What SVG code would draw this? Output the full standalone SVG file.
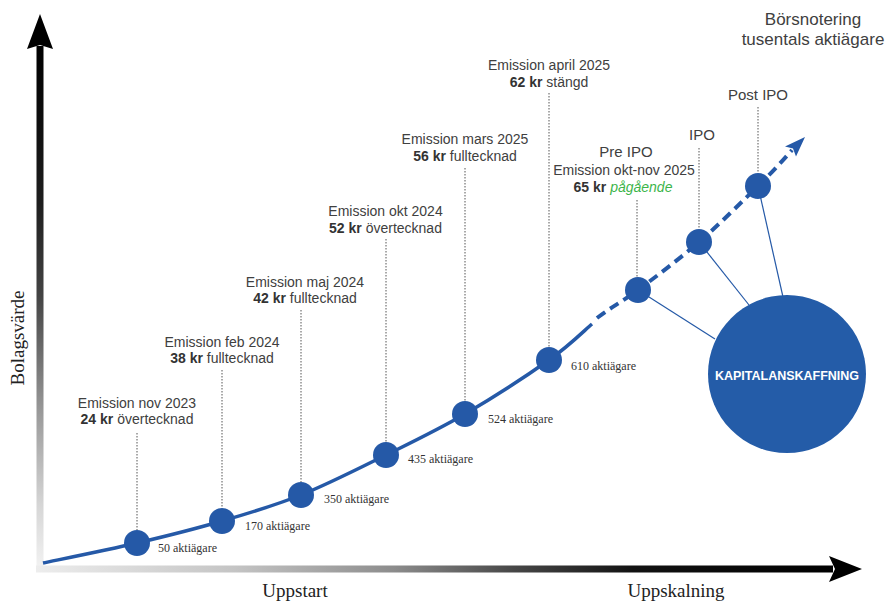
<svg xmlns="http://www.w3.org/2000/svg" width="886" height="602" viewBox="0 0 886 602">
<defs>
<linearGradient id="gx" gradientUnits="userSpaceOnUse" x1="36" y1="0" x2="832" y2="0">
<stop offset="0" stop-color="#ededed"/>
<stop offset="0.25" stop-color="#c4c4c4"/>
<stop offset="0.45" stop-color="#8c8c8c"/>
<stop offset="0.6" stop-color="#474747"/>
<stop offset="0.75" stop-color="#121212"/>
<stop offset="1" stop-color="#000"/>
</linearGradient>
<linearGradient id="gy" gradientUnits="userSpaceOnUse" x1="0" y1="46" x2="0" y2="568">
<stop offset="0" stop-color="#000"/>
<stop offset="0.3" stop-color="#1e1e1e"/>
<stop offset="0.48" stop-color="#444"/>
<stop offset="0.7" stop-color="#999"/>
<stop offset="0.88" stop-color="#d6d6d6"/>
<stop offset="1" stop-color="#f2f2f2"/>
</linearGradient>
</defs>
<style>
.lbl{font-family:"Liberation Sans",Arial,sans-serif;font-size:14px;fill:#404040;text-anchor:middle}
.b{font-weight:bold;fill:#333}
.big{font-size:15px}
.top{font-size:17px}
.sh{font-family:"Liberation Serif","Times New Roman",serif;font-size:12px;fill:#333}
.ax{font-family:"Liberation Serif","Times New Roman",serif;font-size:19px;fill:#222;text-anchor:middle}
.dot{fill:#2559a7}
.lead{stroke:#555;stroke-width:1;stroke-dasharray:1.5 1.5;fill:none}
.link{stroke:#2559a7;stroke-width:1.2;fill:none}
</style>
<rect width="886" height="602" fill="#fff"/>

<g id="axes">
<line x1="40" y1="568" x2="40" y2="46" stroke="url(#gy)" stroke-width="7"/>
<path d="M40,14 L53,49 L40,45 L27,49 Z" fill="#000"/>
<line x1="36" y1="569" x2="833" y2="569" stroke="url(#gx)" stroke-width="7"/>
<path d="M862,569 L829,556 L835,569 L829,582 Z" fill="#000"/>
<text class="ax" transform="translate(24,338) rotate(-90)" font-size="18">Bolagsvärde</text>
<text class="ax" x="295" y="597">Uppstart</text>
<text class="ax" x="676" y="597">Uppskalning</text>
</g>

<g id="connectors">
<path d="M43,563 C58.7,559.7 107.2,550 137,543 C166.8,536 194.7,529 222,521 C249.3,513 273.7,506 301,495 C328.3,484 358.7,468.5 386,455 C413.3,441.5 437.8,429.8 465,414 C492.2,398.2 527.8,375 549,360 C570.2,345 584.8,330 592,324" fill="none" stroke="#2559a7" stroke-width="3.5"/>
<path d="M597,318 C610.8,307.3 620.8,302.8 638,290 C655.2,277.2 679,259.3 699,242 C719,224.7 741.8,201.8 758,186 C774.2,170.2 784,159 792,150" fill="none" stroke="#2559a7" stroke-width="4" stroke-dasharray="10 6"/>
<path d="M805,137 L785,146.5 L793,148.5 L796,156.5 Z" fill="#2559a7"/>
<line class="lead" x1="137" y1="433" x2="137" y2="530"/>
<line class="lead" x1="222" y1="370" x2="222" y2="508"/>
<line class="lead" x1="301" y1="310" x2="301" y2="482"/>
<line class="lead" x1="386" y1="239" x2="386" y2="442"/>
<line class="lead" x1="465" y1="168" x2="465" y2="401"/>
<line class="lead" x1="549" y1="93" x2="549" y2="347"/>
<line class="lead" x1="637" y1="200" x2="637" y2="277"/>
<line class="lead" x1="699" y1="148" x2="699" y2="229"/>
<line class="lead" x1="758" y1="107" x2="758" y2="173"/>
<line class="link" x1="638" y1="290" x2="715" y2="339"/>
<line class="link" x1="699" y1="242" x2="749" y2="305"/>
<line class="link" x1="758" y1="186" x2="783" y2="297"/>
</g>

<g id="n1">
<circle class="dot" cx="137" cy="543" r="13"/>
<text class="lbl" x="137" y="408">Emission nov 2023</text>
<text class="lbl" x="137" y="424"><tspan class="b">24 kr</tspan> övertecknad</text>
<text class="sh" x="158" y="552">50 aktiägare</text>
</g>
<g id="n2">
<circle class="dot" cx="222" cy="521" r="13"/>
<text class="lbl" x="222" y="347">Emission feb 2024</text>
<text class="lbl" x="222" y="363"><tspan class="b">38 kr</tspan> fulltecknad</text>
<text class="sh" x="245" y="530">170 aktiägare</text>
</g>
<g id="n3">
<circle class="dot" cx="301" cy="495" r="13"/>
<text class="lbl" x="305" y="287">Emission maj 2024</text>
<text class="lbl" x="305" y="303"><tspan class="b">42 kr</tspan> fulltecknad</text>
<text class="sh" x="324" y="503">350 aktiägare</text>
</g>
<g id="n4">
<circle class="dot" cx="386" cy="455" r="13"/>
<text class="lbl" x="385.5" y="216">Emission okt 2024</text>
<text class="lbl" x="385.5" y="233"><tspan class="b">52 kr</tspan> övertecknad</text>
<text class="sh" x="408" y="463">435 aktiägare</text>
</g>
<g id="n5">
<circle class="dot" cx="465" cy="414" r="13"/>
<text class="lbl" x="465" y="144">Emission mars 2025</text>
<text class="lbl" x="465" y="161"><tspan class="b">56 kr</tspan> fulltecknad</text>
<text class="sh" x="488" y="423">524 aktiägare</text>
</g>
<g id="n6">
<circle class="dot" cx="549" cy="360" r="13"/>
<text class="lbl" x="549" y="70">Emission april 2025</text>
<text class="lbl" x="549" y="87"><tspan class="b">62 kr</tspan> stängd</text>
<text class="sh" x="571" y="370">610 aktiägare</text>
</g>
<g id="preipo">
<circle class="dot" cx="638" cy="290" r="13"/>
<text class="lbl big" x="626" y="157">Pre IPO</text>
<text class="lbl" x="624" y="175">Emission okt-nov 2025</text>
<text class="lbl" x="623" y="192" font-size="12"><tspan class="b">65 kr</tspan> <tspan fill="#3cb54a" font-style="italic">pågående</tspan></text>
</g>
<g id="ipo">
<circle class="dot" cx="699" cy="242" r="13"/>
<text class="lbl big" x="702" y="140">IPO</text>
</g>
<g id="postipo">
<circle class="dot" cx="758" cy="186" r="13"/>
<text class="lbl big" x="758" y="100">Post IPO</text>
</g>
<g id="borsnotering">
<text class="lbl top" x="813" y="25">Börsnotering</text>
<text class="lbl top" x="813" y="45">tusentals aktiägare</text>
</g>
<g id="kapital">
<circle cx="787" cy="374" r="79" fill="#245ca8"/>
<text x="787" y="380" font-family="Liberation Sans, Arial, sans-serif" font-size="12.5" font-weight="bold" fill="#fff" text-anchor="middle">KAPITALANSKAFFNING</text>
</g>
</svg>
